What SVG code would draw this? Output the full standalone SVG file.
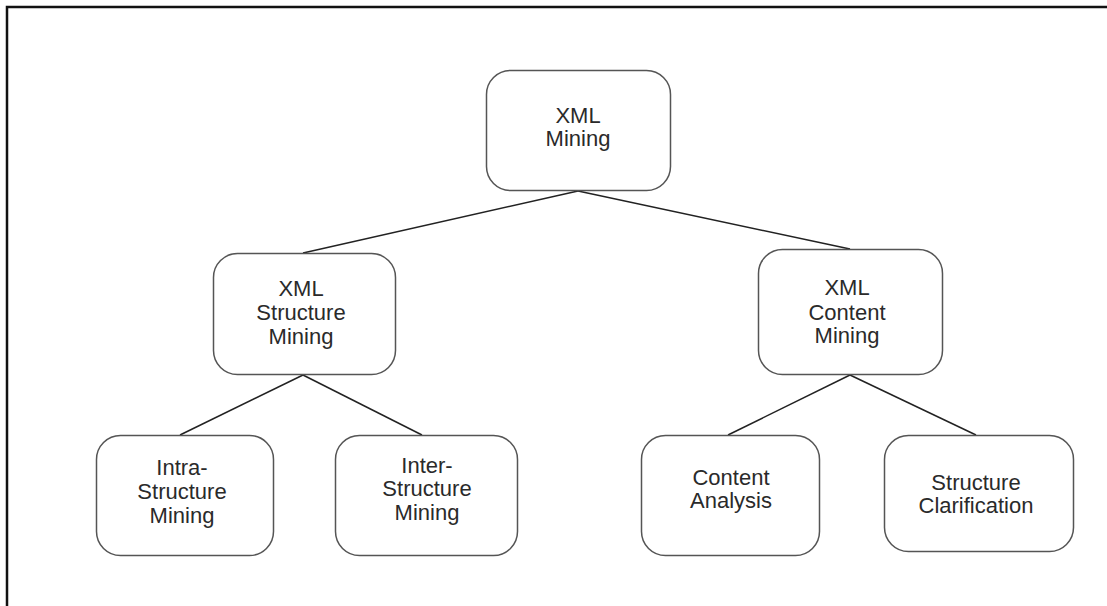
<svg xmlns="http://www.w3.org/2000/svg" width="1107" height="606" viewBox="0 0 1107 606">
<style>
.frame{fill:none;stroke:#111;stroke-width:2.5}
.node rect{fill:#fff;stroke:#555;stroke-width:1.5}
.node text{font-family:"Liberation Sans",Arial,sans-serif;font-size:22px;fill:#2a2a2a;text-anchor:middle}
.conn line{stroke:#222;stroke-width:1.5}
</style>
<rect width="1107" height="606" fill="#fff"/>
<path class="frame" d="M7,620 V7 H1120"/>
<g class="conn">
<line x1="578" y1="191" x2="303" y2="253"/>
<line x1="578" y1="191" x2="850" y2="249"/>
<line x1="303" y1="375" x2="180" y2="435"/>
<line x1="303" y1="375" x2="422" y2="435"/>
<line x1="850" y1="375" x2="728" y2="435"/>
<line x1="850" y1="375" x2="976" y2="435"/>
</g>
<g id="xml-mining" class="node">
<rect x="486.5" y="70.5" width="184" height="120" rx="24"/>
<text x="578" y="123">XML</text>
<text x="578" y="146">Mining</text>
</g>
<g id="xml-structure-mining" class="node">
<rect x="213.5" y="253.5" width="182" height="121" rx="24"/>
<text x="301" y="296">XML</text>
<text x="301" y="320">Structure</text>
<text x="301" y="344">Mining</text>
</g>
<g id="xml-content-mining" class="node">
<rect x="758.5" y="249.5" width="184" height="125" rx="24"/>
<text x="847" y="295">XML</text>
<text x="847" y="320">Content</text>
<text x="847" y="343">Mining</text>
</g>
<g id="intra-structure-mining" class="node">
<rect x="96.5" y="435.5" width="177" height="120" rx="24"/>
<text x="182" y="475">Intra-</text>
<text x="182" y="499">Structure</text>
<text x="182" y="523">Mining</text>
</g>
<g id="inter-structure-mining" class="node">
<rect x="335.5" y="435.5" width="182" height="120" rx="24"/>
<text x="427" y="473">Inter-</text>
<text x="427" y="496">Structure</text>
<text x="427" y="520">Mining</text>
</g>
<g id="content-analysis" class="node">
<rect x="641.5" y="435.5" width="178" height="120" rx="24"/>
<text x="731" y="485">Content</text>
<text x="731" y="508">Analysis</text>
</g>
<g id="structure-clarification" class="node">
<rect x="884.5" y="435.5" width="189" height="116" rx="24"/>
<text x="976" y="490">Structure</text>
<text x="976" y="513">Clarification</text>
</g>
</svg>
